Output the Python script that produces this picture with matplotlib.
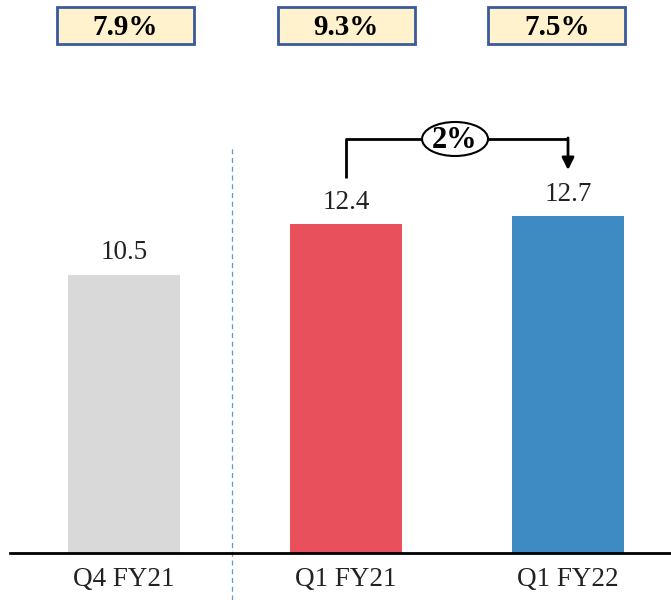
import matplotlib
matplotlib.use("Agg")
import matplotlib.pyplot as plt
from matplotlib.patches import Rectangle, Ellipse

categories = ["Q4 FY21", "Q1 FY21", "Q1 FY22"]
values = [10.5, 12.4, 12.7]
margins = ["7.9%", "9.3%", "7.5%"]
growth_label = "2%"
colors = ["#D9D9D9", "#E8505B", "#3E8BC4"]

plt.rcParams['font.family'] = ['Liberation Serif', 'DejaVu Serif']

fig = plt.figure(figsize=(6.71, 6.0), dpi=100)
ax = fig.add_axes([10/671, 47/600, 661/671, 553/600])
ax.set_xlim(-0.514, 2.464)
ax.set_ylim(0, 553/26.5)

x = list(range(len(categories)))
ax.bar(x, values, width=0.505, color=colors, zorder=2)

for xi, v in zip(x, values):
    ax.text(xi, v + 0.35, f"{v:.1f}", ha="center", va="bottom", fontsize=19.5, color="#222222")

for xi, c in zip(x, categories):
    ax.text(xi, -1.0, c, ha="center", va="center", fontsize=19.5, color="#222222", clip_on=False)

# margin boxes
box_x = [0.005, 1.0, 1.95]
bw, bh = 0.617, 1.40
by = 19.89
for bx, m in zip(box_x, margins):
    ax.add_patch(Rectangle((bx - bw/2, by - bh/2), bw, bh, facecolor="#FFF2CC",
                           edgecolor="#3A5A9C", linewidth=2, zorder=3))
    ax.text(bx, by - 0.05, m, ha="center", va="center", fontsize=21, fontweight="bold", zorder=4)

# dashed separator
ax.plot([0.486, 0.486], [-1.77, (553-145)/26.5], ls=(0, (4, 3)), color="#5B9BD5",
        lw=0.9, clip_on=False, zorder=1)

# growth bracket
yh = (553-139)/26.5
yl = (553-178)/26.5
ytip = (553-170)/26.5
ax.plot([1, 1, 2], [yl, yh, yh], color="black", lw=2, zorder=3, solid_capstyle="butt")
ax.annotate("", xy=(2, ytip), xytext=(2, yh + 0.04),
            arrowprops=dict(arrowstyle="-|>", color="black", lw=2, mutation_scale=18,
                            shrinkA=0, shrinkB=0), zorder=3)
ex = (455-124)/222
ax.add_patch(Ellipse((ex, yh), 66/222, 34/26.5, facecolor="white", edgecolor="black",
                     lw=1.5, zorder=4))
ax.text(ex, yh - 0.05, growth_label, ha="center", va="center", fontsize=22, fontweight="bold", zorder=5)

for s in ["top", "right", "left"]:
    ax.spines[s].set_visible(False)
ax.spines["bottom"].set_linewidth(2)
ax.spines["bottom"].set_color("black")
ax.set_xticks([])
ax.set_yticks([])

fig.savefig("out.png", dpi=100)
